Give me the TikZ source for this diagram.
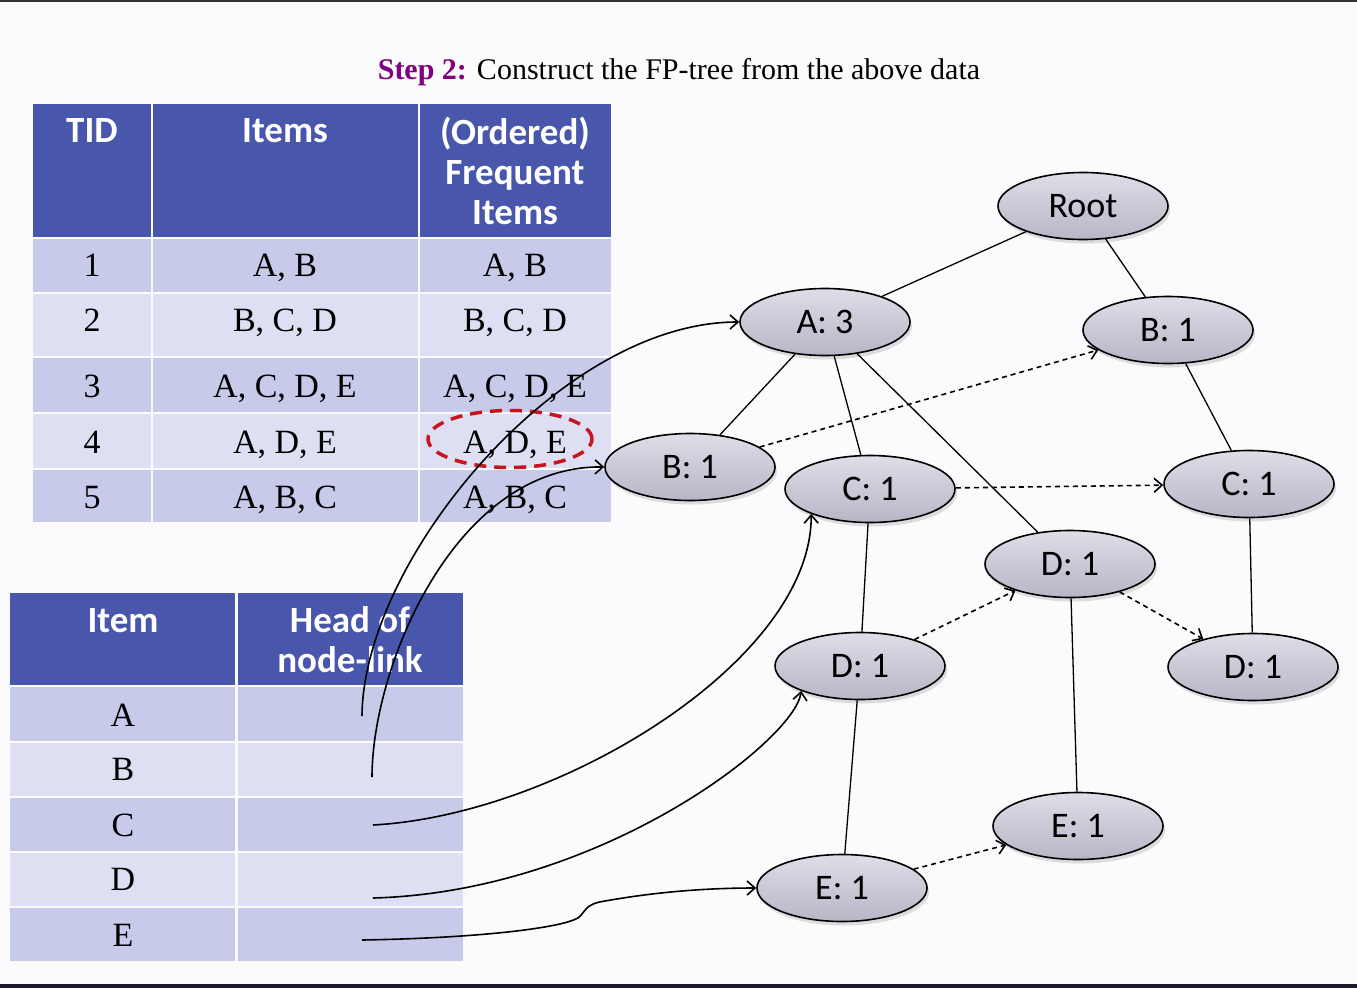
\documentclass[tikz,border=0pt]{standalone}
\usepackage{fontspec}
\setmainfont{Liberation Serif}
\newfontfamily\calib{Carlito}
\usetikzlibrary{arrows.meta,positioning,shapes.geometric,shadows}
\definecolor{hdrBlue}{RGB}{72,86,172}
\definecolor{rowDark}{RGB}{199,202,233}
\definecolor{rowLight}{RGB}{223,223,243}
\definecolor{stepPurple}{RGB}{128,0,128}
\definecolor{markRed}{RGB}{200,20,30}
\definecolor{paper}{RGB}{251,251,254}
\definecolor{edgeBand}{RGB}{28,24,48}
\definecolor{nodeTop}{RGB}{222,222,232}
\definecolor{nodeBot}{RGB}{182,182,198}
\tikzset{
	fpnode/.style={
		ellipse,
		draw=black,
		line width=1.6pt,
		minimum width=170pt,
		minimum height=67pt,
		inner sep=0pt,
		top color=nodeTop,
		bottom color=nodeBot,
		drop shadow={shadow xshift=2pt, shadow yshift=-4pt, opacity=0.25},
		font=\calib\fontsize{36}{40}\selectfont
	},
	tedge/.style={line width=1.3pt},
	nlink/.style={-{Straight Barb[length=8pt,width=14pt]}, line width=1.6pt, dash pattern=on 5pt off 4pt},
	hlink/.style={-{Straight Barb[length=8pt,width=14pt]}, line width=1.6pt},
	hdtxt/.style={text=white, font=\calib\bfseries\fontsize{37}{40}\selectfont, align=center, inner sep=0pt},
	celltxt/.style={anchor=base, font=\fontsize{34}{38}\selectfont, inner sep=0pt}
}
\begin{document}
\begin{tikzpicture}[x=1pt, y=-1pt]
	\useasboundingbox (0,0) rectangle (1357,988);
	\fill[paper] (0,0) rectangle (1357,988);
	\fill[black!80] (0,0) rectangle (1357,1.5);
	\fill[edgeBand] (0,984) rectangle (1357,988);

	\node[font=\fontsize{30}{36}\selectfont] (title) at (679,72)
		{\textcolor{stepPurple}{\bfseries Step 2:} Construct the FP-tree from the above data};

	% transaction table
	\fill[hdrBlue] (33,104) rectangle (151,237);
	\fill[hdrBlue] (153,104) rectangle (418,237);
	\fill[hdrBlue] (420,104) rectangle (611,237);
	\foreach \ya/\yb/\c in {239/292/rowDark, 294/356/rowLight, 358/412/rowDark, 414/468/rowLight, 470/522/rowDark}{
		\fill[fill=\c] (33,\ya) rectangle (151,\yb);
		\fill[fill=\c] (153,\ya) rectangle (418,\yb);
		\fill[fill=\c] (420,\ya) rectangle (611,\yb);
	}
	\node[hdtxt] (hTID) at (92,131) {TID};
	\node[hdtxt] (hItems) at (285,131) {Items};
	\node[hdtxt] (hFreq) at (515,171) {(Ordered)\\Frequent\\Items};
	\foreach \i/\y/\its/\frq in {1/276/{A, B}/{A, B}, 2/331/{B, C, D}/{B, C, D}, 3/397/{A, C, D, E}/{A, C, D, E}, 4/453/{A, D, E}/{A, D, E}, 5/508/{A, B, C}/{A, B, C}}{
		\node[celltxt] (tid\i) at (92,\y) {\i};
		\node[celltxt] (items\i) at (285,\y) {\its};
		\node[celltxt] (freq\i) at (515,\y) {\frq};
	}
	\node[ellipse, draw=markRed, line width=3.5pt, dash pattern=on 12pt off 8pt,
		minimum width=164pt, minimum height=57pt] (mark) at (510,439) {};

	% header table
	\fill[hdrBlue] (10,593) rectangle (235,685);
	\fill[hdrBlue] (238,593) rectangle (463,685);
	\foreach \ya/\yb/\c in {687/741/rowDark, 743/796/rowLight, 798/851/rowDark, 853/906/rowLight, 908/961/rowDark}{
		\fill[fill=\c] (10,\ya) rectangle (235,\yb);
		\fill[fill=\c] (238,\ya) rectangle (463,\yb);
	}
	\node[hdtxt] (hItem) at (123,621) {Item};
	\node[hdtxt] (hHead) at (350,640) {Head of\\node-link};
	\foreach \it/\y in {A/726, B/780, C/836, D/890, E/946}{
		\node[celltxt] (item\it) at (123,\y) {\it};
	}
	\coordinate (hA) at (362,716);
	\coordinate (hB) at (372,777);
	\coordinate (hC) at (373,825);
	\coordinate (hD) at (373,898);
	\coordinate (hE) at (362,940);

	% FP-tree
	\node[fpnode] (root) at (1083,206) {Root};
	\node[fpnode] (a3) at (825,322) {A: 3};
	\node[fpnode] (b1r) at (1168,330) {B: 1};
	\node[fpnode] (b1l) at (690,467) {B: 1};
	\node[fpnode] (c1m) at (870,489) {C: 1};
	\node[fpnode] (c1r) at (1249,484) {C: 1};
	\node[fpnode] (d1m) at (1070,564) {D: 1};
	\node[fpnode] (d1l) at (860,666) {D: 1};
	\node[fpnode] (d1r) at (1253,667) {D: 1};
	\node[fpnode] (e1r) at (1078,826) {E: 1};
	\node[fpnode] (e1b) at (842,888) {E: 1};

	\draw[tedge] (root) -- (a3);
	\draw[tedge] (root) -- (b1r);
	\draw[tedge] (a3) -- (b1l);
	\draw[tedge] (a3) -- (c1m);
	\draw[tedge] (a3) -- (d1m);
	\draw[tedge] (b1r) -- (c1r);
	\draw[tedge] (c1m) -- (d1l);
	\draw[tedge] (d1l) -- (e1b);
	\draw[tedge] (d1m) -- (e1r);
	\draw[tedge] (c1r) -- (d1r);

	% node-links
	\draw[nlink] (b1l) -- (b1r);
	\draw[nlink] (c1m) -- (c1r);
	\draw[nlink] (d1l) -- (d1m);
	\draw[nlink] (d1m) -- (d1r);
	\draw[nlink] (e1b) -- (e1r);

	\draw[hlink] (hA) .. controls (363,560) and (560,322) .. (a3.west);
	\draw[hlink] (hB) .. controls (372,667) and (455,465) .. (b1l.west);
	\draw[hlink] (hC) .. controls (560,815) and (812,660) .. (c1m.203);
	\draw[hlink] (hD) .. controls (600,892) and (795,740) .. (d1l.203);
	\draw[hlink] (hE) .. controls (480,938) and (560,928) .. (578,918)
		.. controls (586,912) and (584,904) .. (605,901)
		.. controls (650,893) and (700,888) .. (e1b.west);
\end{tikzpicture}
\end{document}
